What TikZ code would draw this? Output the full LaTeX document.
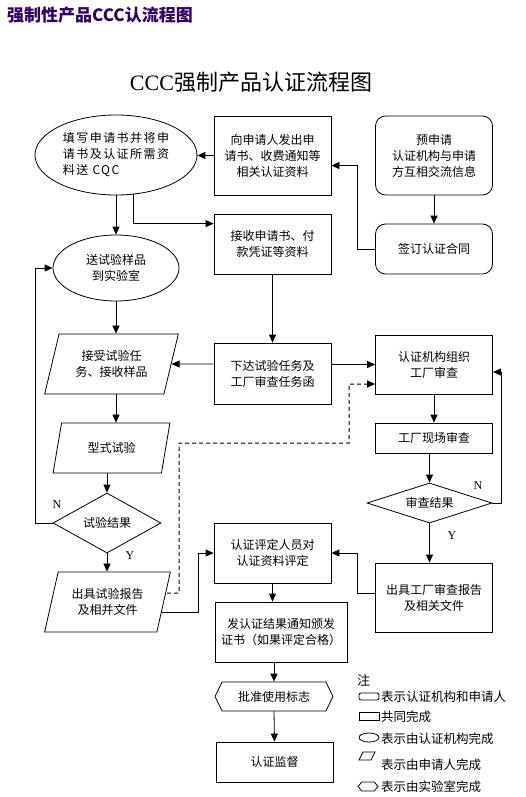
\documentclass[tikz,border=0pt]{standalone}
\usepackage{fontspec}
\setmainfont{Liberation Serif}
\newfontfamily\cjk{Noto Sans CJK SC}
\newfontfamily\cjkwide[LetterSpace=12]{Noto Sans CJK SC}
\usetikzlibrary{shapes.geometric, shapes.symbols, arrows.meta}
\definecolor{titlepurple}{RGB}{51,0,102}

\begin{document}
\begin{tikzpicture}[x=1pt, y=-1pt,
    every node/.style={font=\cjk\fontsize{12}{16}\selectfont},
    box/.style={draw, line width=0.8pt, minimum width=117pt, align=center, inner sep=2pt},
    rbox/.style={box, rounded corners=10pt},
    oval/.style={draw, line width=0.8pt, ellipse, align=center, inner sep=0pt},
    para/.style={draw, line width=0.8pt, trapezium, trapezium left angle=70, trapezium right angle=110, trapezium stretches=true, align=center, inner sep=0pt},
    decision/.style={draw, line width=0.8pt, diamond, aspect=1.8, align=center, inner sep=0pt},
    hexa/.style={draw, line width=0.8pt, signal, signal to=west and east, signal pointer angle=128, inner sep=0pt},
    arrow/.style={-{Triangle[length=8pt, width=7pt]}, line width=0.8pt},
    dasharrow/.style={arrow, line width=1pt, dash pattern=on 4pt off 3pt},
    yesno/.style={font=\rmfamily\fontsize{12}{14}\selectfont, inner sep=0pt},
    key/.style={draw, line width=0.8pt, minimum width=20pt, minimum height=8pt, inner sep=0pt},
    keytext/.style={anchor=west, font=\cjk\fontsize{12.5}{15}\selectfont, inner sep=0pt}
]
    \useasboundingbox (0,0) rectangle (525,797);

    % Titles
    \node[anchor=west, font=\cjk\bfseries\fontsize{17}{20}\selectfont, text=titlepurple, inner sep=0pt] (pagetitle) at (7,15) {强制性产品CCC认流程图};
    \node[font=\rmfamily\fontsize{22}{26}\selectfont, inner sep=0pt] (charttitle) at (251,82) {CCC{\cjk 强制产品认证流程图}};

    % Top row
    \node[oval, minimum width=162pt, minimum height=80pt, align=left, font=\cjkwide\fontsize{12}{16}\selectfont] (apply) at (116,155) {填写申请书并将申\\请书及认证所需资\\料送 CQC};
    \node[box, minimum height=79pt] (issue) at (272.5,155.5) {向申请人发出申\\请书、收费通知等\\相关认证资料};
    \node[rbox, minimum height=79pt] (pre) at (434,155.5) {预申请\\认证机构与申请\\方互相交流信息};

    % Second row
    \node[oval, minimum width=126pt, minimum height=66pt] (sample) at (116,268) {送试验样品\\到实验室};
    \node[box, minimum height=60pt] (receive) at (272.5,244) {接收申请书、付\\款凭证等资料};
    \node[rbox, minimum height=50pt] (contract) at (434,249) {签订认证合同};

    % Tasks
    \node[para, minimum width=135pt, minimum height=60pt] (accept) at (111.5,364) {接受试验任\\务、接收样品};
    \node[box, minimum height=61pt] (task) at (272.5,373.5) {下达试验任务及\\工厂审查任务函};
    \node[box, minimum height=59pt] (audit) at (434,364.5) {认证机构组织\\工厂审查};

    % Laboratory side
    \node[para, minimum width=117pt, minimum height=50pt] (typetest) at (111.5,448) {型式试验};
    \node[decision, minimum width=108pt, minimum height=60pt] (test) at (107,523) {试验结果};
    \node[para, minimum width=127pt, minimum height=60pt] (report) at (107.5,602) {出具试验报告\\及相并文件};

    % Factory side
    \node[box, minimum height=30pt] (site) at (434,438) {工厂现场审查};
    \node[decision, minimum width=125pt, minimum height=40pt] (review) at (429.5,503) {审查结果};
    \node[box, minimum height=69pt] (freport) at (434,597.5) {出具工厂审查报告\\及相关文件};

    % Evaluation and after
    \node[box, minimum height=60pt] (eval) at (272.5,553) {认证评定人员对\\认证资料评定};
    \node[box, minimum width=132pt, minimum height=60pt] (cert) at (281,632) {发认证结果通知颁发\\证书（如果评定合格）};
    \node[hexa, minimum width=118pt, minimum height=29pt] (mark) at (274,696.5) {批准使用标志};
    \node[box, minimum height=40pt] (superv) at (274.5,762) {认证监督};

    % Y/N labels
    \node[yesno] (testno) at (57,505) {N};
    \node[yesno] (testyes) at (130,556) {Y};
    \node[yesno] (reviewno) at (478,486) {N};
    \node[yesno] (reviewyes) at (452,536) {Y};

    % Connectors
    \draw[arrow] (issue.west) -- (issue.west -| apply.east);
    \draw[arrow] (contract.west) -- ++(-18,0) |- ([yshift=-10pt]issue.east);
    \draw[arrow] (pre.south) -- (contract.north);
    \draw[arrow] (apply.south) -- (sample.north);
    \draw[arrow] ([xshift=17pt,yshift=1pt]apply.south) |- ([yshift=-10pt]receive.north west);
    \draw[arrow] (receive.south) -- (task.north);
    \draw[arrow] (task.west |- accept) -- (accept);
    \draw[arrow] (task.east |- audit) -- (audit);
    \draw[arrow] (sample.south) -- (accept.north -| sample.south);
    \draw[arrow] (accept.south -| sample.south) -- (typetest.north -| sample.south);
    \draw[arrow] (typetest.south -| test.north) -- (test.north);
    \draw[arrow] (test.west) -- ++(-17,0) |- (sample.west);
    \draw[arrow] (test.south) -- (report.north -| test.south);
    \draw[dasharrow] ([xshift=3pt,yshift=9pt]report.east) -- (179,593) -- (179,443) -- (349,443) |- ([yshift=-19.5pt]audit.west);
    \draw[arrow] ([xshift=-3pt,yshift=-10pt]report.east) -- ++(37,0) |- (eval.west);
    \draw[arrow] (eval.south) -- (eval.south |- cert.north);
    \draw[arrow] (mark.north |- cert.south) -- (mark.north);
    \draw[arrow] (mark.south) -- (superv.north);
    \draw[arrow] (audit.south) -- (site.north);
    \draw[arrow] (site.south -| review.north) -- (review.north);
    \draw[arrow] (review.east) -- ++(9,0) |- ([yshift=-7.5pt]audit.east);
    \draw[arrow] (review.south) -- (freport.north -| review.south);
    \draw[arrow] ([yshift=4.5pt]freport.west) -- ++(-18,0) |- (eval.east);

    % Legend
    \node[anchor=west, inner sep=0pt, font=\cjk\fontsize{13}{15}\selectfont] (notehead) at (357,680) {注};
    \node[key, rounded corners=2pt, minimum height=7pt] (keyjoint) at (369,696.5) {};
    \node[keytext] (keyjointtxt) at (381,697) {表示认证机构和申请人};
    \node[key] (keybox) at (369,716.5) {};
    \node[keytext] (keyboxtxt) at (381,717) {共同完成};
    \node[key, ellipse, minimum height=9pt] (keyoval) at (369,737.5) {};
    \node[keytext] (keyovaltxt) at (381,739) {表示由认证机构完成};
    \node[key, trapezium, trapezium left angle=63, trapezium right angle=117, trapezium stretches=true, minimum width=16pt, inner sep=1pt] (keypara) at (367,756) {};
    \node[keytext] (keyparatxt) at (381,765) {表示由申请人完成};
    \node[key, signal, signal to=west and east, signal pointer angle=100, minimum height=9pt, inner sep=1pt] (keyhexa) at (368,786.5) {};
    \node[keytext] (keyhexatxt) at (381,787) {表示由实验室完成};
\end{tikzpicture}
\end{document}
